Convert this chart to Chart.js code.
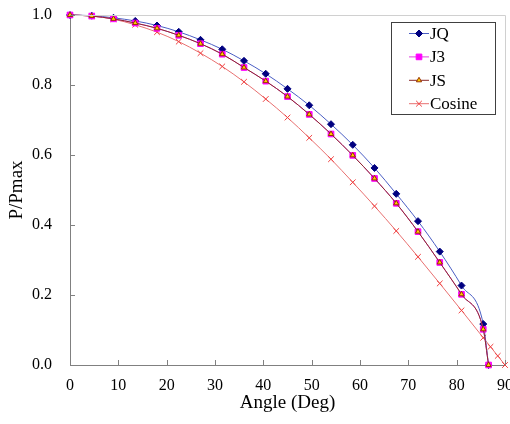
<!DOCTYPE html>
<html>
<head>
<meta charset="utf-8">
<script src="https://cdn.jsdelivr.net/npm/chart.js"></script>
<style>
  html, body { margin: 0; padding: 0; background: #fff; }
  #wrap { width: 510px; height: 424px; }
</style>
</head>
<body>
<div id="wrap"><canvas id="powerChart" width="510" height="424"></canvas></div>
<script>
// angles (deg) for JQ / J3 / JS
const angles = [0, 4.5, 9, 13.5, 18, 22.5, 27, 31.5, 36, 40.5, 45, 49.5, 54, 58.5, 63, 67.5, 72, 76.5, 81, 85.5, 86.6];
const jq = [1.0, 0.998, 0.992, 0.983, 0.970, 0.952, 0.929, 0.902, 0.869, 0.832, 0.789, 0.742, 0.688, 0.629, 0.563, 0.489, 0.411, 0.324, 0.227, 0.117, 0];
const j3 = [1.0, 0.997, 0.989, 0.977, 0.962, 0.942, 0.918, 0.888, 0.850, 0.811, 0.767, 0.716, 0.660, 0.599, 0.533, 0.462, 0.381, 0.293, 0.202, 0.102, 0];
const js = [1.0, 0.997, 0.989, 0.977, 0.962, 0.942, 0.918, 0.888, 0.850, 0.811, 0.767, 0.716, 0.660, 0.599, 0.533, 0.462, 0.381, 0.293, 0.202, 0.102, 0];

// cosine reference curve
const cosAngles = [0, 4.5, 9, 13.5, 18, 22.5, 27, 31.5, 36, 40.5, 45, 49.5, 54, 58.5, 63, 67.5, 72, 76.5, 81, 85.5, 87, 88.5, 90];
const cosine = [1.0, 0.997, 0.988, 0.972, 0.951, 0.924, 0.891, 0.853, 0.809, 0.760, 0.707, 0.649, 0.588, 0.522, 0.454, 0.383, 0.309, 0.233, 0.156, 0.078, 0.052, 0.026, 0];

const xTicks = [0, 10, 20, 30, 40, 50, 60, 70, 80, 90];
const yTicks = [0, 0.2, 0.4, 0.6, 0.8, 1.0];

const serif = '"Liberation Serif", "Times New Roman", serif';

function pts(xs, ys) {
    return xs.map((x, i) => ({ x: x, y: ys[i] }));
}

// inward tick marks, light frame on top/right and the boxed legend
const framePlugin = {
    id: 'frame',
    afterDraw(chart) {
        const ctx = chart.ctx;
        const a = chart.chartArea;
        const xs = chart.scales.x;
        const ys = chart.scales.y;
        ctx.save();
        ctx.lineWidth = 1;
        ctx.strokeStyle = '#d0d0d0';
        ctx.beginPath();
        ctx.moveTo(a.left, a.top + 0.5);
        ctx.lineTo(a.right + 0.5, a.top + 0.5);
        ctx.lineTo(a.right + 0.5, a.bottom);
        ctx.stroke();

        ctx.strokeStyle = '#808080';
        ctx.beginPath();
        xTicks.forEach(v => {
            const px = Math.round(xs.getPixelForValue(v)) + 0.5;
            ctx.moveTo(px, a.bottom);
            ctx.lineTo(px, a.bottom - 5);
        });
        yTicks.forEach(v => {
            const py = Math.round(ys.getPixelForValue(v)) + 0.5;
            ctx.moveTo(a.left, py);
            ctx.lineTo(a.left + 5, py);
        });
        ctx.stroke();

        // legend box
        const bx = 391.5, by = 22.5, bw = 104, bh = 92;
        ctx.fillStyle = '#fff';
        ctx.fillRect(bx, by, bw, bh);
        ctx.strokeStyle = '#404040';
        ctx.strokeRect(bx, by, bw, bh);
        ctx.font = '17px ' + serif;
        ctx.textBaseline = 'middle';
        ctx.textAlign = 'left';
        chart.data.datasets.forEach((ds, i) => {
            const y = 33.5 + i * 23.4;
            ctx.strokeStyle = ds.borderColor;
            ctx.lineWidth = 1;
            ctx.beginPath();
            ctx.moveTo(409, y);
            ctx.lineTo(429, y);
            ctx.stroke();
            ctx.fillStyle = ds.pointBackgroundColor;
            ctx.strokeStyle = ds.pointBorderColor;
            Chart.helpers.drawPoint(ctx, {
                pointStyle: ds.pointStyle,
                radius: ds.pointRadius,
                borderWidth: ds.pointBorderWidth
            }, 419, y);
            ctx.fillStyle = '#000';
            ctx.fillText(ds.label, 430, y + 1);
        });
        ctx.restore();
    }
};

new Chart(document.getElementById('powerChart'), {
    type: 'scatter',
    data: {
        datasets: [
            {
                label: 'JQ',
                data: pts(angles, jq),
                showLine: true,
                borderColor: '#4a5ec4',
                borderWidth: 1,
                pointStyle: 'rectRot',
                pointRadius: 3.5,
                pointBackgroundColor: '#000080',
                pointBorderColor: '#000080',
                pointBorderWidth: 1,
                cubicInterpolationMode: 'monotone',
                order: 2
            },
            {
                label: 'J3',
                data: pts(angles, j3),
                showLine: true,
                borderColor: '#e040e0',
                borderWidth: 1,
                pointStyle: 'rect',
                pointRadius: 4,
                pointBackgroundColor: '#ff00ff',
                pointBorderColor: '#ff00ff',
                pointBorderWidth: 1,
                cubicInterpolationMode: 'monotone',
                order: 1
            },
            {
                label: 'JS',
                data: pts(angles, js),
                showLine: true,
                borderColor: '#8a2a2a',
                borderWidth: 1,
                pointStyle: 'triangle',
                pointRadius: 3,
                pointBackgroundColor: '#ffd000',
                pointBorderColor: '#993300',
                pointBorderWidth: 1,
                cubicInterpolationMode: 'monotone',
                order: 0
            },
            {
                label: 'Cosine',
                data: pts(cosAngles, cosine),
                showLine: true,
                borderColor: '#e87070',
                borderWidth: 1,
                pointStyle: 'crossRot',
                pointRadius: 4,
                pointBackgroundColor: '#f04040',
                pointBorderColor: '#f04040',
                pointBorderWidth: 1,
                cubicInterpolationMode: 'monotone',
                order: 3
            }
        ]
    },
    options: {
        responsive: false,
        animation: false,
        clip: false,
        layout: { padding: { top: 15, right: 5, left: 0, bottom: 0 } },
        plugins: {
            legend: { display: false },
            tooltip: { enabled: false }
        },
        scales: {
            x: {
                type: 'linear',
                min: 0,
                max: 90,
                afterFit(scale) {
                    scale.height = 59;
                    scale.paddingLeft = 0;
                    scale.paddingRight = 0;
                },
                afterBuildTicks(scale) { scale.ticks = xTicks.map(v => ({ value: v })); },
                grid: { display: false, drawTicks: false },
                border: { display: true, color: '#808080', width: 1 },
                ticks: {
                    padding: 11,
                    color: '#000',
                    font: { family: serif, size: 16 }
                },
                title: {
                    display: true,
                    text: 'Angle (Deg)',
                    color: '#000',
                    font: { family: serif, size: 19 },
                    padding: { top: 0, bottom: 10 }
                }
            },
            y: {
                type: 'linear',
                min: 0,
                max: 1,
                afterFit(scale) {
                    scale.width = 70;
                    scale.paddingTop = 0;
                    scale.paddingBottom = 0;
                },
                afterBuildTicks(scale) { scale.ticks = yTicks.map(v => ({ value: v })); },
                grid: { display: false, drawTicks: false },
                border: { display: true, color: '#808080', width: 1 },
                ticks: {
                    padding: 18,
                    color: '#000',
                    font: { family: serif, size: 16 },
                    callback: v => v.toFixed(1)
                },
                title: {
                    display: true,
                    text: 'P/Pmax',
                    color: '#000',
                    font: { family: serif, size: 19 },
                    padding: { top: 6, bottom: 0 }
                }
            }
        }
    },
    plugins: [framePlugin]
});
</script>
</body>
</html>
